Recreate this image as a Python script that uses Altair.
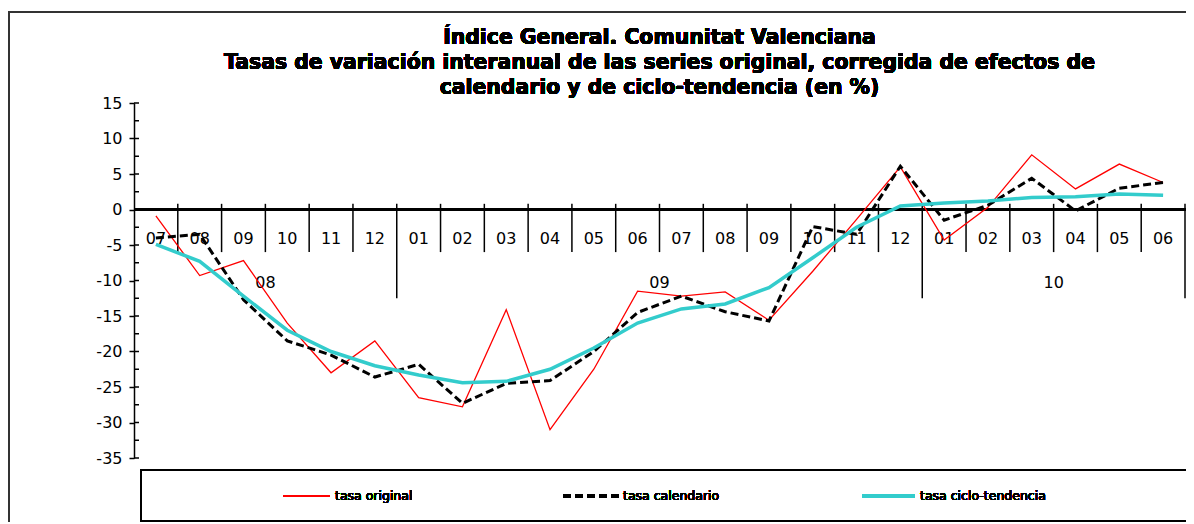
import altair as alt
import pandas as pd

# ---------------- data ----------------
months = ["07", "08", "09", "10", "11", "12", "01", "02", "03", "04", "05", "06",
          "07", "08", "09", "10", "11", "12", "01", "02", "03", "04", "05", "06"]
year_labels = ["08", "09", "10"]
year_lengths = [6, 12, 6]

original = [-0.9, -9.3, -7.2, -16.0, -23.0, -18.5, -26.5, -27.8, -14.1, -31.0, -22.5, -11.5,
            -12.2, -11.6, -15.6, -8.7, -1.4, 6.0, -4.3, 0.3, 7.7, 2.9, 6.4, 3.8]
calendar = [-4.0, -3.5, -12.7, -18.5, -20.5, -23.6, -21.8, -27.3, -24.5, -24.1, -20.0, -14.5,
            -12.2, -14.4, -15.7, -2.4, -3.5, 6.1, -1.5, 0.6, 4.4, -0.2, 3.0, 3.8]
trend = [-4.9, -7.3, -12.2, -17.0, -20.0, -22.0, -23.3, -24.4, -24.2, -22.5, -19.5, -16.0,
         -14.0, -13.3, -11.0, -6.8, -2.5, 0.5, 0.9, 1.2, 1.7, 1.8, 2.2, 2.0]

y_ticks = [-35, -30, -25, -20, -15, -10, -5, 0, 5, 10, 15]
y_minor = [-35 + 2.5 * i for i in range(21)]

title_lines = ["Índice General. Comunitat Valenciana",
               "Tasas de variación interanual de las series original, corregida de efectos de",
               "calendario y de ciclo-tendencia  (en %)"]
legend_labels = ["tasa original", "tasa calendario", "tasa ciclo-tendencia"]

# ---------------- tables ----------------
n = len(months)
df = pd.DataFrame({"pos": [i + 0.5 for i in range(n)], "month": months,
                   "original": original, "calendar": calendar, "trend": trend})

yb = [0]
for L in year_lengths:
    yb.append(yb[-1] + L)
bdf = pd.DataFrame([{"b": b, "year": b in yb} for b in range(n + 1)])

ydf_rows = []
start = 0
for lab, L in zip(year_labels, year_lengths):
    ydf_rows.append({"pos": start + L / 2, "label": lab})
    start += L
ydf = pd.DataFrame(ydf_rows)
minor_df = pd.DataFrame({"v": y_minor})

W, H = 1051, 355
FONT = "DejaVu Sans"
xs = alt.Scale(domain=[0, n], nice=False, zero=False)
ys = alt.Scale(domain=[-35, 15], nice=False, zero=False)
y_axis = alt.Axis(values=y_ticks, title=None, grid=False, tickSize=5, tickWidth=1.5,
                  tickColor="black", domainColor="black", domainWidth=1.5,
                  labelFontSize=16, labelFont=FONT, labelColor="black", labelPadding=7,
                  labelExpr="'' + datum.value")


def X(field):
    return alt.X(field, type="quantitative", scale=xs, axis=None)


def Y(field):
    return alt.Y(field, type="quantitative", scale=ys, axis=y_axis)


def YD(v):
    return alt.YDatum(v, scale=ys, axis=y_axis)


# border of the whole chart
border = alt.Chart(df).mark_rect(fillOpacity=0, stroke="#333333", strokeWidth=2).encode(
    x=alt.value(-125), x2=alt.value(1200), y=alt.value(-91), y2=alt.value(600))

# minor inward ticks on y axis
minor = alt.Chart(minor_df).mark_rule(color="black", strokeWidth=1.5).encode(
    x=alt.value(0), x2=alt.value(5), y=Y("v"))

# x axis line at zero
zero_line = alt.Chart(df).mark_rule(color="black", strokeWidth=2).encode(
    x=alt.value(0), x2=alt.value(W + 2), y=YD(0))

# category ticks
cat_ticks = alt.Chart(bdf).transform_filter("!datum.year").mark_rule(
    color="black", strokeWidth=1.5).encode(x=X("b"), y=YD(0.8), y2=alt.Y2Datum(-6))
year_ticks = alt.Chart(bdf).transform_filter("datum.year && datum.b > 0").mark_rule(
    color="black", strokeWidth=1.5).encode(x=X("b"), y=YD(0.8), y2=alt.Y2Datum(-12.5))

month_text = alt.Chart(df).mark_text(fontSize=16, font=FONT, color="black",
                                     baseline="middle").encode(
    x=X("pos"), y=YD(-4.2), text="month:N")
year_text = alt.Chart(ydf).mark_text(fontSize=16, font=FONT, color="black",
                                     baseline="middle").encode(
    x=X("pos"), y=YD(-10.3), text="label:N")

l_orig = alt.Chart(df).mark_line(color="#FF0000", strokeWidth=1.3).encode(x=X("pos"), y=Y("original"))
l_cal = alt.Chart(df).mark_line(color="black", strokeWidth=3, strokeDash=[8, 4]).encode(
    x=X("pos"), y=Y("calendar"))
l_trend = alt.Chart(df).mark_line(color="#33CCCC", strokeWidth=3.5).encode(x=X("pos"), y=Y("trend"))

# title
title_layers = []
for i, t in enumerate(title_lines):
    title_layers.append(
        alt.Chart(df).mark_text(fontSize=20.4, font=FONT, fontWeight="bold", color="black",
                                align="center", baseline="alphabetic").encode(
            x=alt.value(W / 2), y=alt.value(-59 + 25 * i), text=alt.value(t)))

# legend
legend_box = alt.Chart(df).mark_rect(fillOpacity=0, stroke="black", strokeWidth=1.5).encode(
    x=alt.value(7), x2=alt.value(1053), y=alt.value(367), y2=alt.value(418))
leg_y = 393
leg_items = [
    (149, 196, 201, dict(color="#FF0000", strokeWidth=1.3)),
    (429, 486, 489, dict(color="black", strokeWidth=3, strokeDash=[8, 4])),
    (728, 781, 786, dict(color="#33CCCC", strokeWidth=3.5)),
]
leg_layers = []
for (x1, x2, tx, sty), lab in zip(leg_items, legend_labels):
    leg_layers.append(alt.Chart(df).mark_rule(**sty).encode(
        x=alt.value(x1), x2=alt.value(x2), y=alt.value(leg_y)))
    leg_layers.append(alt.Chart(df).mark_text(fontSize=12.5, font=FONT, color="black",
                                              align="left", baseline="middle").encode(
        x=alt.value(tx), y=alt.value(leg_y), text=alt.value(lab)))

chart = alt.layer(
    border, minor, zero_line, cat_ticks, year_ticks, month_text, year_text,
    l_orig, l_cal, l_trend, *title_layers, legend_box, *leg_layers
).properties(
    width=W, height=H,
    autosize=alt.AutoSizeParams(type="none"),
    padding={"left": 126, "top": 95, "right": 1, "bottom": 64},
    background="white",
).configure_view(stroke=None)

chart.save("out.html", embed_options={"renderer": "svg", "actions": False})
